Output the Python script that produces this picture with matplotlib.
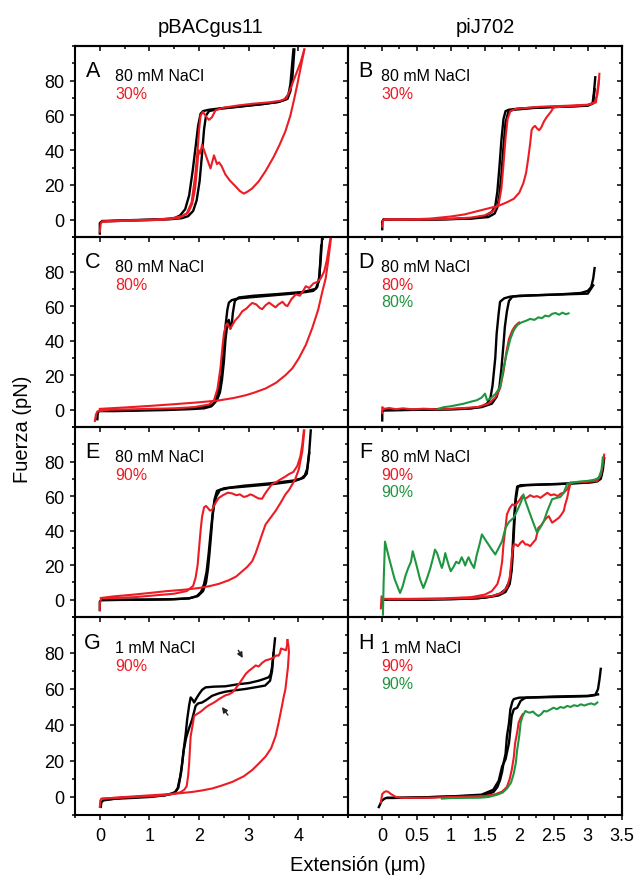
import matplotlib
matplotlib.use("Agg")
import matplotlib.pyplot as plt
from matplotlib.ticker import MultipleLocator, FixedLocator

plt.rcParams['font.family'] = ['Liberation Sans', 'DejaVu Sans']

RED = '#ec1c24'
GREEN = '#1e9640'
BLACK = '#000000'

# ---- A: pBACgus11, 80 mM NaCl, 30%
a_blk1_x = [0.0, 0.0, 0.04, 0.3, 0.8, 1.2, 1.5, 1.62, 1.72, 1.8, 1.87, 1.93, 1.98, 2.03, 2.08, 2.2, 2.5, 2.9, 3.3, 3.6, 3.72, 3.8, 3.84, 3.87, 3.9]
a_blk1_y = [-8, -2, -1, -0.8, -0.3, 0, 0.8, 2.5, 6, 14, 28, 42, 54, 61, 62.5, 63.3, 64.3, 65.5, 66.6, 67.8, 69, 72, 78, 88, 98]
a_blk2_x = [3.92, 3.88, 3.84, 3.78, 3.6, 3.2, 2.8, 2.4, 2.2, 2.14, 2.1, 2.06, 2.01, 1.95, 1.88, 1.78, 1.65, 1.4, 1.0, 0.5, 0.05]
a_blk2_y = [98, 82, 74, 69.5, 67.8, 66.3, 65, 63.8, 62.5, 60, 52, 38, 22, 11, 5, 2, 0.8, 0.2, 0, -0.4, -0.8]
a_red1_x = [0.0, 0.02, 0.06, 0.4, 0.9, 1.3, 1.6, 1.75, 1.85, 1.92, 1.97, 2.0, 2.03, 2.08, 2.15, 2.2, 2.26, 2.33, 2.5, 2.8, 3.1, 3.4, 3.65, 3.76, 3.85, 3.9, 3.97, 4.05, 4.12]
a_red1_y = [-7, -2, -1.2, -0.8, -0.5, 0, 1, 3.5, 10, 25, 40, 52, 60, 62, 59, 57.5, 59, 63, 64.5, 65.8, 66.8, 67.5, 68.5, 70, 76, 80, 85, 91, 98]
a_red2_x = [4.12, 4.05, 3.98, 3.92, 3.84, 3.74, 3.62, 3.5, 3.34, 3.2, 3.07, 2.97, 2.9, 2.82, 2.74, 2.62, 2.53, 2.45, 2.4, 2.36, 2.3, 2.23, 2.16, 2.1, 2.06, 2.02, 1.99, 1.96, 1.92, 1.86, 1.78, 1.65, 1.45, 1.1, 0.7, 0.3, 0.05]
a_red2_y = [98, 88, 78, 70, 60, 51, 43, 36, 28, 22, 18, 16, 15, 16.5, 19, 22.5, 26, 31, 33, 32, 37, 29.5, 35, 40, 43, 38, 40, 30, 18, 9, 4, 2, 0.8, 0, -0.3, -0.6, -1]

# ---- B: piJ702, 80 mM NaCl, 30%
b_blk1_x = [0.0, 0.0, 0.02, 0.4, 0.9, 1.3, 1.5, 1.6, 1.65, 1.68, 1.71, 1.74, 1.77, 1.8, 1.85, 2.0, 2.4, 2.8, 3.0, 3.07, 3.09, 3.11]
b_blk1_y = [-5.5, -1, 0, 0, 0.2, 0.8, 2, 4.5, 8, 16, 30, 46, 58, 62.5, 63.3, 64, 64.8, 65.3, 65.8, 67, 73, 82]
b_blk2_x = [3.1, 3.08, 3.0, 2.6, 2.2, 1.9, 1.84, 1.8, 1.77, 1.74, 1.71, 1.68, 1.64, 1.55, 1.3, 0.8, 0.3, 0.02]
b_blk2_y = [75, 67, 65.6, 65, 64.3, 63.2, 62, 56, 42, 26, 14, 7, 3.5, 1.5, 0.6, 0.1, 0, 0]
b_red1_x = [0.0, 0.01, 0.05, 0.5, 1.0, 1.3, 1.5, 1.62, 1.7, 1.74, 1.77, 1.8, 1.83, 1.87, 1.95, 2.3, 2.7, 3.0, 3.1, 3.14, 3.16, 3.17]
b_red1_y = [-4, -0.5, 0.2, 0, 0.4, 1.2, 2.5, 5, 9, 18, 32, 47, 58, 62.5, 63.8, 65, 65.6, 66.2, 67.5, 72, 78, 84]
b_red2_x = [3.16, 3.12, 3.0, 2.7, 2.5, 2.46, 2.43, 2.4, 2.36, 2.32, 2.29, 2.26, 2.23, 2.2, 2.18, 2.16, 2.13, 2.1, 2.06, 2.0, 1.92, 1.82, 1.7, 1.55, 1.4, 1.2, 1.0, 0.7, 0.3, 0.05]
b_red2_y = [80, 67.5, 66, 65.3, 64.6, 62, 60.5, 59, 56.5, 53, 51.5, 52.5, 54, 53, 51.5, 44, 35, 27, 21, 15.5, 12, 10, 8, 6.5, 5, 3, 1.8, 0.6, 0, 0]

# ---- C: pBACgus11, 80 mM NaCl, 80%
c_blk1_x = [-0.05, -0.04, 0.0, 0.3, 0.8, 1.3, 1.8, 2.1, 2.25, 2.33, 2.4, 2.45, 2.49, 2.53, 2.57, 2.6, 2.66, 2.8, 3.2, 3.6, 4.0, 4.3, 4.38, 4.42, 4.45, 4.48]
c_blk1_y = [-5.5, -1.5, -0.8, -0.8, -0.5, -0.2, 0.3, 0.8, 2, 5, 12, 20, 32, 48, 58, 62, 63.5, 64.5, 65.5, 66.5, 67.5, 68.8, 71, 77, 87, 100]
c_blk2_x = [4.46, 4.42, 4.35, 4.1, 3.6, 3.1, 2.8, 2.72, 2.68, 2.66, 2.63, 2.6, 2.57, 2.53, 2.5, 2.46, 2.42, 2.36, 2.28, 2.1, 1.6, 1.0, 0.4, 0.0]
c_blk2_y = [95, 75, 70, 68.2, 67, 66, 65, 63, 56, 50, 47, 52, 50, 40, 28, 17, 10, 5.5, 3, 1.5, 0.5, 0, -0.4, -0.6]
c_red1_x = [-0.1, -0.08, -0.05, 0.2, 0.6, 1.0, 1.5, 1.9, 2.2, 2.3, 2.37, 2.43, 2.47, 2.5, 2.54, 2.57, 2.6, 2.63, 2.67, 2.72, 2.8, 2.87, 2.95, 3.02, 3.07, 3.15, 3.22, 3.27, 3.34, 3.41, 3.48, 3.54, 3.6, 3.68, 3.74, 3.78, 3.86, 3.95, 4.03, 4.1, 4.15, 4.22, 4.3, 4.38, 4.45, 4.52, 4.57, 4.61, 4.65]
c_red1_y = [-6.5, -3, -1, 0, 0.2, 0.5, 0.8, 1.5, 3, 5.5, 12, 24, 36, 44, 49, 50, 48, 47, 49, 51.5, 54, 57, 58.5, 60.5, 61.8, 61, 59, 58.2, 60.5, 62, 60.5, 59.3, 61, 62.5, 60.5, 60, 64, 66.8, 66, 69, 71.5, 70.5, 73, 74, 76, 80, 86, 93, 100]
c_red2_x = [4.66, 4.6, 4.55, 4.48, 4.4, 4.28, 4.15, 4.01, 3.88, 3.74, 3.55, 3.34, 3.1, 2.94, 2.7, 2.4, 2.0, 1.5, 1.0, 0.5, 0.0]
c_red2_y = [100, 86, 76, 68, 58, 47.3, 37.5, 29.8, 24, 20, 15.6, 12.3, 9.8, 8.4, 6.8, 5.4, 4.3, 3.2, 2.2, 1.3, 0.5]

# ---- D: piJ702, 80 mM NaCl, 80% / 80%
d_blk1_x = [0.0, 0.0, 0.03, 0.5, 1.0, 1.3, 1.45, 1.53, 1.58, 1.61, 1.63, 1.65, 1.67, 1.7, 1.72, 1.78, 1.87, 2.2, 2.6, 2.9, 3.0, 3.05, 3.08, 3.1]
d_blk1_y = [-6.2, -1, -0.4, 0, 0.3, 0.8, 1.8, 3.5, 7, 14, 22, 30, 44, 56, 62.5, 64.5, 65.5, 66.2, 66.8, 67.6, 68.8, 71, 76, 82]
d_blk2_x = [3.08, 3.0, 2.5, 2.0, 1.9, 1.85, 1.82, 1.79, 1.77, 1.74, 1.71, 1.67, 1.6, 1.45, 1.2, 0.8, 0.4, 0.05]
d_blk2_y = [72, 67.2, 66.6, 66, 65.5, 63, 57, 48, 38, 24, 13, 7.5, 3.5, 1.5, 0.5, 0, -0.1, -0.2]
d_red_x = [0.0, 0.0, 0.03, 0.1, 0.2, 0.3, 0.45, 0.6, 0.8, 1.0, 1.2, 1.4, 1.55, 1.65, 1.72, 1.77, 1.81, 1.85, 1.9, 1.94, 1.98, 2.0]
d_red_y = [-2, 1.5, 0.5, 1, 0.3, 0.8, 0.2, 0.6, 0.2, 0.5, 1, 1.6, 3.5, 7, 12.3, 22, 33, 41, 46, 48.5, 50, 50.5]
d_grn_x = [0.82, 0.9, 1.0, 1.1, 1.19, 1.28, 1.38, 1.45, 1.5, 1.53, 1.58, 1.65, 1.72, 1.77, 1.82, 1.87, 1.92, 1.97, 2.03, 2.1, 2.16, 2.22, 2.28, 2.33, 2.38, 2.43, 2.48, 2.53, 2.58, 2.63, 2.68, 2.72]
d_grn_y = [0.6, 1.5, 2, 2.8, 3.5, 4.5, 5.5, 7, 9.3, 5.5, 6.5, 9, 13, 24, 33, 41, 46, 49, 50.5, 51.5, 52.6, 52, 53.5, 53, 54.5, 54, 55.5, 56, 55, 56.2, 55.3, 55.8]

# ---- E: pBACgus11, 80 mM NaCl, 90%
e_blk1_x = [0.0, 0.0, 0.03, 0.5, 1.0, 1.5, 1.8, 1.95, 2.04, 2.1, 2.15, 2.19, 2.23, 2.27, 2.3, 2.35, 2.42, 2.6, 3.0, 3.5, 3.9, 4.05, 4.13, 4.18, 4.22, 4.25]
e_blk1_y = [-6, -1, -0.2, 0, 0.1, 0.3, 0.8, 2, 4.5, 9, 16, 26, 38, 49, 55, 60, 63.5, 64.7, 65.7, 67, 68.5, 70, 72, 76, 86, 98]
e_blk2_x = [4.22, 4.17, 4.1, 3.9, 3.4, 2.9, 2.5, 2.36, 2.31, 2.27, 2.24, 2.21, 2.18, 2.14, 2.08, 1.98, 1.8, 1.4, 0.9, 0.4, 0.05]
e_blk2_y = [85, 73, 70.5, 69, 67.3, 66, 64.5, 63, 58, 48, 37, 27, 18, 10, 5, 2.2, 0.8, 0.2, 0, -0.1, -0.2]
e_red1_x = [0.0, 0.0, 0.03, 0.3, 0.7, 1.1, 1.5, 1.75, 1.88, 1.93, 1.97, 2.0, 2.03, 2.06, 2.1, 2.14, 2.18, 2.22, 2.26, 2.3, 2.34, 2.4, 2.48, 2.58, 2.67, 2.75, 2.82, 2.9, 2.97, 3.03, 3.08, 3.14, 3.2, 3.27, 3.32, 3.38, 3.47, 3.55, 3.63, 3.72, 3.81, 3.9, 3.98, 4.04, 4.08, 4.11]
e_red1_y = [-6, -2, 0.8, 1, 1.5, 2.5, 3.5, 5, 8, 12.8, 20, 30, 40, 48, 53.5, 54.3, 53, 51.6, 52, 54.3, 56.5, 59, 60.5, 62, 61.5, 60.5, 61, 59.5, 60, 61, 60.5, 59.5, 58.6, 58.5, 61, 63.5, 66.9, 68, 69.5, 71, 72.7, 74, 77.5, 83, 90, 98]
e_red2_x = [4.12, 4.08, 4.01, 3.94, 3.88, 3.81, 3.74, 3.64, 3.54, 3.44, 3.34, 3.27, 3.2, 3.14, 3.07, 2.97, 2.87, 2.75, 2.6, 2.4, 2.2, 2.0, 1.7, 1.32, 1.0, 0.66, 0.3, 0.02]
e_red2_y = [98, 86, 75.6, 70, 66.9, 63.5, 61, 56, 51.4, 47.5, 43.6, 38, 32, 27, 22.3, 19, 16.5, 13.5, 11.3, 9.2, 7.8, 6.8, 5.8, 4.9, 3.9, 2.9, 2, 1]

# ---- F: piJ702, 80 mM NaCl, 90% / 90%
f_blk1_x = [0.0, 0.0, 0.03, 0.5, 1.0, 1.4, 1.6, 1.72, 1.8, 1.86, 1.89, 1.91, 1.93, 1.95, 1.97, 2.02, 2.3, 2.7, 3.0, 3.14, 3.19, 3.22, 3.24]
f_blk1_y = [-3, 0.5, 0, 0, 0.3, 0.8, 2, 3.5, 6, 11, 20, 35, 50, 60, 65.5, 66.3, 66.7, 67.2, 67.8, 68.5, 70, 75, 82]
f_blk2_x = [3.2, 3.1, 2.6, 2.1, 1.98, 1.95, 1.93, 1.91, 1.89, 1.86, 1.8, 1.7, 1.5, 1.1, 0.6, 0.1]
f_blk2_y = [72, 68.2, 67, 66.3, 65.5, 58, 45, 30, 17, 9, 4.5, 2.5, 1.2, 0.5, 0.1, 0]
f_red1_x = [-0.02, -0.01, 0.02, 0.4, 0.9, 1.3, 1.5, 1.6, 1.68, 1.72, 1.75, 1.77, 1.8, 1.82, 1.86, 1.9, 1.94, 1.97, 2.01, 2.04, 2.08, 2.11, 2.16, 2.21, 2.26, 2.31, 2.36, 2.41, 2.46, 2.51, 2.56, 2.61, 2.65, 2.7, 2.75, 2.85, 3.0, 3.14, 3.19, 3.22, 3.24]
f_red1_y = [-5, 2, 0.5, 0.5, 0.8, 1.5, 3, 5, 9, 14.5, 22, 32, 42, 49.4, 53, 55.2, 54.5, 56, 58, 60, 58.5, 59, 60.5, 59.5, 60, 59, 60.5, 61.9, 60.5, 61, 60, 61.5, 62, 63.9, 67.8, 68, 68.3, 68.8, 72, 78, 84]
f_red2_x = [2.75, 2.72, 2.7, 2.67, 2.65, 2.61, 2.58, 2.53, 2.48, 2.43, 2.39, 2.36, 2.32, 2.28, 2.24, 2.2, 2.16, 2.12, 2.09, 2.05, 2.02, 1.98, 1.95, 1.92, 1.9, 1.88, 1.86, 1.82, 1.75, 1.6, 1.3, 0.9, 0.5, 0.1]
f_red2_y = [67.8, 63, 59, 55, 51.4, 49, 47.5, 46, 44.6, 48.4, 47, 45.5, 43, 41.7, 34.8, 33, 31, 32, 32, 34, 33, 31, 32, 32, 28, 20, 12.6, 7, 4, 2, 1, 0.5, 0.3, 0.2]
f_grn_x = [0.01, 0.02, 0.04, 0.1, 0.18, 0.26, 0.3, 0.34, 0.38, 0.42, 0.445, 0.5, 0.55, 0.6, 0.65, 0.7, 0.74, 0.77, 0.8, 0.84, 0.87, 0.89, 0.92, 0.94, 0.97, 1.0, 1.04, 1.08, 1.12, 1.16, 1.19, 1.21, 1.24, 1.26, 1.3, 1.34, 1.38, 1.42, 1.455, 1.5, 1.55, 1.6, 1.65, 1.7, 1.75, 1.8, 1.85, 1.92, 1.99, 2.03, 2.06, 2.1, 2.16, 2.21, 2.26, 2.31, 2.36, 2.41, 2.48, 2.55, 2.6, 2.65, 2.7, 2.8, 2.9, 3.0, 3.1, 3.16, 3.2, 3.22]
f_grn_y = [-8.6, 10, 33.6, 24, 12, 3.9, 8, 14, 18.4, 22, 28.1, 20, 12, 6.8, 12, 18, 24, 29, 27, 22, 18.4, 21, 27, 24, 20, 16.5, 19, 22, 21, 24.6, 22, 19.8, 23, 24.6, 21, 18.4, 26, 32, 37.8, 35, 32, 29, 26.2, 30, 34, 41.7, 45, 47.5, 53.3, 57, 61, 56, 49.4, 44, 38.8, 42, 45.6, 51.4, 58.2, 59, 59.5, 62, 67, 68, 68.5, 68.8, 69.5, 70.5, 75, 82.4]

# ---- G: pBACgus11, 1 mM NaCl, 90%
g_blk1_x = [0.02, 0.03, 0.07, 0.3, 0.67, 1.0, 1.32, 1.45, 1.52, 1.57, 1.62, 1.66, 1.69, 1.73, 1.76, 1.8, 1.83, 1.87, 1.9, 1.95, 2.0, 2.06, 2.13, 2.3, 2.53, 2.8, 3.0, 3.2, 3.3, 3.4, 3.44, 3.47, 3.5, 3.53]
g_blk1_y = [-5.5, -3, -1.9, -1, -0.5, 0, 1, 2, 2.8, 5, 11.4, 19, 26.2, 35, 43.1, 51, 55.3, 54, 52.5, 55, 57.2, 59.5, 60.9, 61.3, 61.5, 62.7, 63.3, 64.6, 65.5, 66.5, 68, 72.2, 80, 88.1]
g_blk2_x = [3.5, 3.47, 3.43, 3.33, 3.1, 2.93, 2.7, 2.53, 2.4, 2.26, 2.15, 2.06, 1.98, 1.93, 1.86, 1.79, 1.74, 1.69, 1.64, 1.58, 1.5, 1.3, 1.0, 0.5, 0.1]
g_blk2_y = [80, 70, 64.6, 61.9, 60.8, 60, 59.2, 58.5, 57.6, 56.2, 54, 52.5, 52, 50.6, 43.1, 37.5, 33, 26, 14, 5, 2, 0.9, 0.3, -0.3, -1.5]
g_red1_x = [0.0, 0.01, 0.03, 0.3, 0.7, 1.0, 1.3, 1.5, 1.62, 1.7, 1.75, 1.78, 1.8, 1.83, 1.87, 1.9, 1.95, 2.0, 2.06, 2.13, 2.2, 2.27, 2.33, 2.4, 2.47, 2.53, 2.6, 2.67, 2.73, 2.8, 2.87, 2.94, 3.0, 3.07, 3.14, 3.2, 3.27, 3.34, 3.42, 3.5, 3.56, 3.6, 3.63, 3.65, 3.7, 3.75, 3.77, 3.78]
g_red1_y = [-5.5, -2, -0.9, -0.5, 0, 0.4, 1, 1.8, 2.6, 4, 6, 12, 18.8, 33.7, 40, 45, 46, 46.8, 48, 49.7, 51, 52, 53, 54.4, 55.5, 56.5, 57, 58.1, 60, 62.7, 65.5, 68.4, 70, 71.5, 73.1, 72.5, 74.5, 75.9, 76.5, 77.5, 78.7, 78.5, 80, 82.5, 82, 81.6, 84, 87.2]
g_red2_x = [3.78, 3.8, 3.81, 3.79, 3.76, 3.74, 3.7, 3.67, 3.6, 3.54, 3.45, 3.34, 3.2, 3.07, 2.9, 2.67, 2.45, 2.26, 2.05, 1.86, 1.5, 1.0, 0.5, 0.07]
g_red2_y = [87.2, 84, 80.6, 72, 65, 60, 55, 50.6, 41, 33.7, 27, 22.5, 18.5, 15, 11.5, 8.4, 6.3, 4.7, 3.6, 2.8, 1.8, 0.9, 0, -0.9]
# arrow (tail, head) pairs marking the plateaus in G
g_arrows = [((2.79, 81.5), (2.88, 77.2)), ((2.58, 45.5), (2.46, 50.0))]

# ---- H: piJ702, 1 mM NaCl, 90% / 90%
h_blk1_x = [-0.05, -0.03, -0.01, 0.03, 0.06, 0.2, 0.6, 1.0, 1.3, 1.46, 1.55, 1.625, 1.68, 1.72, 1.75, 1.77, 1.8, 1.82, 1.85, 1.87, 1.9, 1.92, 2.0, 2.2, 2.6, 3.0, 3.11, 3.15, 3.17, 3.19]
h_blk1_y = [-5.6, -4, -2.2, -1, -0.5, -0.5, -0.2, 0.3, 0.6, 1, 1.8, 2.8, 5.5, 9.4, 14, 18.7, 24, 33.7, 41, 48.7, 53, 54.4, 55.2, 55.3, 55.6, 56, 56.6, 60, 65, 71.2]
h_blk2_x = [3.15, 3.0, 2.5, 2.1, 2.07, 2.02, 1.97, 1.92, 1.89, 1.85, 1.8, 1.75, 1.7, 1.62, 1.45, 1.0, 0.5, 0.15, 0.08]
h_blk2_y = [57, 56.2, 55.8, 55.2, 54.7, 53.4, 49.6, 48.7, 45, 30, 21, 17, 9, 4, 1.3, 0.3, -0.3, -0.5, -0.5]
h_red_x = [-0.02, -0.01, 0.0, 0.03, 0.06, 0.09, 0.12, 0.16, 0.2, 0.3, 0.45, 0.7, 1.0, 1.3, 1.5, 1.65, 1.75, 1.82, 1.86, 1.89, 1.92, 1.94, 1.97, 1.99, 2.02, 2.05]
h_red_y = [-3.1, -0.5, 1.6, 2.8, 3.2, 2.8, 1.8, 0.9, 0, -0.5, -0.5, -0.4, 0, 0.3, 0.6, 1.5, 3, 5.6, 10, 15, 22, 30, 36, 41.2, 44, 46]
h_grn_x = [0.87, 1.0, 1.2, 1.43, 1.55, 1.68, 1.76, 1.82, 1.88, 1.92, 1.95, 1.97, 2.0, 2.02, 2.05, 2.09, 2.13, 2.16, 2.2, 2.24, 2.28, 2.32, 2.36, 2.4, 2.45, 2.5, 2.55, 2.6, 2.65, 2.7, 2.75, 2.8, 2.85, 2.9, 2.95, 3.0, 3.05, 3.1, 3.14]
h_grn_y = [-0.9, -0.6, -0.5, -0.4, 0, 1.3, 2.5, 4.7, 8, 13.1, 19, 26.2, 34, 41.2, 45, 47.8, 47, 46.9, 47.5, 46, 45, 46, 47.8, 47.5, 48.5, 49.6, 48.8, 50, 49.5, 50.6, 50, 51, 50.5, 51.5, 50.8, 51.5, 52, 51.3, 52.5]

col_titles = ['pBACgus11', 'piJ702']
panel_letters = ['A', 'B', 'C', 'D', 'E', 'F', 'G', 'H']
salt_labels = ['80 mM NaCl', '80 mM NaCl', '80 mM NaCl', '80 mM NaCl',
               '80 mM NaCl', '80 mM NaCl', '1 mM NaCl', '1 mM NaCl']
pct_labels = [['30%'], ['30%'], ['80%'], ['80%', '80%'],
              ['90%'], ['90%', '90%'], ['90%'], ['90%', '90%']]

panels = [
    [(a_blk1_x, a_blk1_y, BLACK), (a_blk2_x, a_blk2_y, BLACK),
     (a_red1_x, a_red1_y, RED), (a_red2_x, a_red2_y, RED)],
    [(b_blk1_x, b_blk1_y, BLACK), (b_blk2_x, b_blk2_y, BLACK),
     (b_red1_x, b_red1_y, RED), (b_red2_x, b_red2_y, RED)],
    [(c_blk1_x, c_blk1_y, BLACK), (c_blk2_x, c_blk2_y, BLACK),
     (c_red1_x, c_red1_y, RED), (c_red2_x, c_red2_y, RED)],
    [(d_blk1_x, d_blk1_y, BLACK), (d_blk2_x, d_blk2_y, BLACK),
     (d_red_x, d_red_y, RED), (d_grn_x, d_grn_y, GREEN)],
    [(e_blk1_x, e_blk1_y, BLACK), (e_blk2_x, e_blk2_y, BLACK),
     (e_red1_x, e_red1_y, RED), (e_red2_x, e_red2_y, RED)],
    [(f_blk1_x, f_blk1_y, BLACK), (f_blk2_x, f_blk2_y, BLACK),
     (f_red1_x, f_red1_y, RED), (f_red2_x, f_red2_y, RED),
     (f_grn_x, f_grn_y, GREEN)],
    [(g_blk1_x, g_blk1_y, BLACK), (g_blk2_x, g_blk2_y, BLACK),
     (g_red1_x, g_red1_y, RED), (g_red2_x, g_red2_y, RED)],
    [(h_blk1_x, h_blk1_y, BLACK), (h_blk2_x, h_blk2_y, BLACK),
     (h_red_x, h_red_y, RED), (h_grn_x, h_grn_y, GREEN)],
]

fig = plt.figure(figsize=(6.36, 8.79), dpi=100)
gs = fig.add_gridspec(4, 2, left=75 / 636, right=622 / 636,
                      top=1 - 47 / 879, bottom=1 - 816 / 879,
                      width_ratios=[273, 274], height_ratios=[191, 190, 190, 198],
                      wspace=0, hspace=0)

SPINE_W = 1.5
TICK_FS = 13
for i in range(8):
    row, col = divmod(i, 2)
    ax = fig.add_subplot(gs[row, col])
    ax.set_facecolor('none')
    for sp in ax.spines.values():
        sp.set_linewidth(SPINE_W)

    for xs, ys, c in panels[i]:
        lw = 1.7 if c == BLACK else 1.5
        ax.plot(xs, ys, color=c, lw=lw, solid_joinstyle='round')

    ax.set_ylim(-10, 100)
    ax.yaxis.set_major_locator(FixedLocator([0, 20, 40, 60, 80]))
    ax.yaxis.set_minor_locator(MultipleLocator(10))
    if col == 0:
        ax.set_xlim(-0.5, 5)
        ax.xaxis.set_major_locator(FixedLocator([0, 1, 2, 3, 4]))
        ax.xaxis.set_minor_locator(MultipleLocator(0.5))
    else:
        ax.set_xlim(-0.5, 3.5)
        ax.xaxis.set_major_locator(FixedLocator([0, 0.5, 1, 1.5, 2, 2.5, 3, 3.5]))
        ax.xaxis.set_minor_locator(MultipleLocator(0.25))
        ax.xaxis.set_major_formatter(plt.FuncFormatter(lambda v, p: '%g' % v))

    ax.tick_params(which='both', direction='out', width=1.1, labelsize=TICK_FS,
                   top=False, right=False)
    ax.tick_params(which='major', length=3.5)
    ax.tick_params(which='minor', length=2.2)
    ax.tick_params(axis='y', labelleft=(col == 0), pad=4)
    ax.tick_params(axis='x', labelbottom=(row == 3), pad=5)

    if row == 0:
        sx = ax.secondary_xaxis('top')
        sx.set_xticks(ax.get_xticks())
        sx.xaxis.set_minor_locator(ax.xaxis.get_minor_locator())
        sx.tick_params(which='both', direction='in', labeltop=False, width=1.1)
        sx.tick_params(which='major', length=3.5)
        sx.tick_params(which='minor', length=2.2)
        sx.spines['top'].set_linewidth(SPINE_W)
    if col == 1:
        sy = ax.secondary_yaxis('right')
        sy.set_yticks([0, 20, 40, 60, 80])
        sy.yaxis.set_minor_locator(MultipleLocator(10))
        sy.tick_params(which='both', direction='in', labelright=False, width=1.1)
        sy.tick_params(which='major', length=3.5)
        sy.tick_params(which='minor', length=2.2)
        sy.spines['right'].set_linewidth(SPINE_W)

    # panel letter and condition labels
    hgt = 198 if row == 3 else 190
    step = 17.5 / hgt
    tx = 0.147 if col == 0 else 0.122
    ax.text(0.065, 0.872, panel_letters[i], transform=ax.transAxes,
            fontsize=15.5, ha='center', va='center')
    ax.text(tx, 0.845, salt_labels[i], transform=ax.transAxes,
            fontsize=11.5, ha='left', va='center', color=BLACK)
    pc = [RED, GREEN]
    for k, lab in enumerate(pct_labels[i]):
        ax.text(tx, 0.843 - (k + 1) * step, lab,
                transform=ax.transAxes, fontsize=11.5, ha='left', va='center',
                color=pc[k])

    if i == 6:
        for tail, head in g_arrows:
            ax.annotate('', xy=head, xytext=tail,
                        arrowprops=dict(arrowstyle='-|>', color='#222222',
                                        lw=1.0, mutation_scale=8,
                                        shrinkA=0, shrinkB=0))

fig.text(211 / 636, 1 - 33 / 879, col_titles[0], ha='center', va='baseline', fontsize=14.5)
fig.text(485 / 636, 1 - 33 / 879, col_titles[1], ha='center', va='baseline', fontsize=14.5)
fig.text(0.036, 0.512, 'Fuerza (pN)', rotation=90, ha='center', va='center', fontsize=14.5)
fig.text(358 / 636, 1 - 866 / 879, 'Extensión (μm)', ha='center', va='center', fontsize=14.5)

fig.savefig('out.png', dpi=100)
